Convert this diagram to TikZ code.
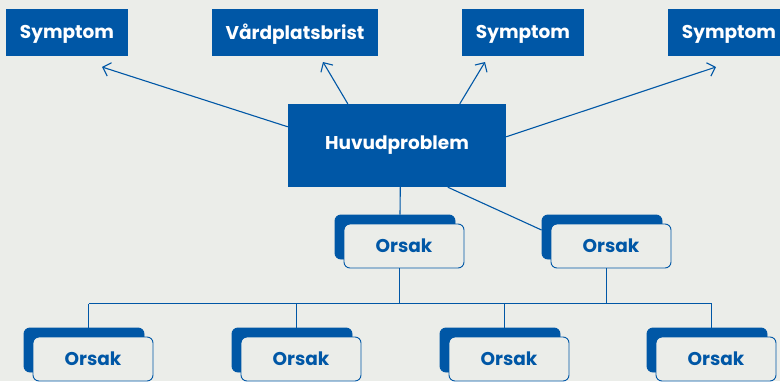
\documentclass[tikz,border=0pt]{standalone}
\usepackage{fontspec}
\setmainfont{Poppins}
\usetikzlibrary{calc,shadows,arrows.meta}
\definecolor{bg}{RGB}{235,237,233}
\definecolor{ink}{RGB}{0,87,166}
\begin{document}
\begin{tikzpicture}[x=1pt,y=-1pt,
  lbl/.style={font=\bfseries\fontsize{18.5}{22}\selectfont},
  topbox/.style={lbl,fill=ink,text=white,minimum height=47pt,inner sep=0pt,text depth=0pt,yshift=-1.5pt},
  hubbox/.style={lbl,fill=ink,text=white,minimum width=218pt,minimum height=83pt,inner sep=0pt},
  causebox/.style={lbl,draw=ink,line width=0.9pt,fill=bg,text=ink,rounded corners=6pt,
    minimum width=120pt,minimum height=44pt,inner sep=0pt,
    copy shadow={shadow xshift=-9pt,shadow yshift=9pt,fill=ink,draw=ink}},
  link/.style={draw=ink,line width=1.1pt},
  arrowlink/.style={link,-{Straight Barb[length=7pt,width=14pt,line width=1.1pt]}}
]
\fill[bg] (0,0) rectangle (780,381);
\useasboundingbox (0,0) rectangle (780,381);

% top row
\node[topbox,minimum width=122pt] (s1) at (67,30.5) {Symptom};
\node[topbox,minimum width=166pt] (vb) at (295,30.5) {Vårdplatsbrist};
\node[topbox,minimum width=122pt] (s2) at (523,30.5) {Symptom};
\begin{scope}
\clip (0,0) rectangle (780,381);
\node[topbox,minimum width=122pt] (s3) at (729,30.5) {Symptom};
\end{scope}

% hub
\node[hubbox] (hub) at (397,145.5) {Huvudproblem};

% arrow ends
\coordinate (t1) at (102,67);
\coordinate (t2) at (323,62);
\coordinate (t3) at (485,62);
\coordinate (t4) at (716,67);

\draw[arrowlink] ($(hub.north west)+(0,23)$) -- (t1);
\draw[arrowlink] ($(hub.north west)+(60,0)$) -- (t2);
\draw[arrowlink] ($(hub.north west)+(172,0)$) -- (t3);
\draw[arrowlink] ($(hub.north east)+(0,33)$) -- (t4);

% middle causes
\node[causebox] (o1) at (404,246) {Orsak};
\node[causebox] (o2) at (611,246) {Orsak};

\draw[link] ($(hub.south west)+(112.5,0)$) -- ($(o1.north)+(-4,-9)$);
\draw[link] ($(hub.south west)+(160,0)$) -- ($(o2.west)+(-9,-16)$);

% bottom causes
\node[causebox] (b1) at (93,359) {Orsak};
\node[causebox] (b2) at (301,359) {Orsak};
\node[causebox] (b3) at (509,359) {Orsak};
\node[causebox] (b4) at (716,359) {Orsak};

% connector points
\coordinate (o1s) at ($(o1.south)+(-4.5,0)$);
\coordinate (o2s) at ($(o2.south)+(-4.5,0)$);
\coordinate (b1n) at ($(b1.north)+(-4.5,-9)$);
\coordinate (b2n) at ($(b2.north)+(-4.5,-9)$);
\coordinate (b3n) at ($(b3.north)+(-4.5,-9)$);
\coordinate (b4n) at ($(b4.north)+(-4.5,-9)$);
\coordinate (busl) at ($(b1n)+(0,-24)$);
\coordinate (busr) at ($(b4n)+(0,-24)$);

\draw[link] (busl) -- (busr);
\draw[link] (o1s) -- (o1s |- busl);
\draw[link] (o2s) -- (o2s |- busl);
\draw[link] (b1n) -- (busl);
\draw[link] (b2n) -- (b2n |- busl);
\draw[link] (b3n) -- (b3n |- busl);
\draw[link] (b4n) -- (busr);
\end{tikzpicture}
\end{document}
